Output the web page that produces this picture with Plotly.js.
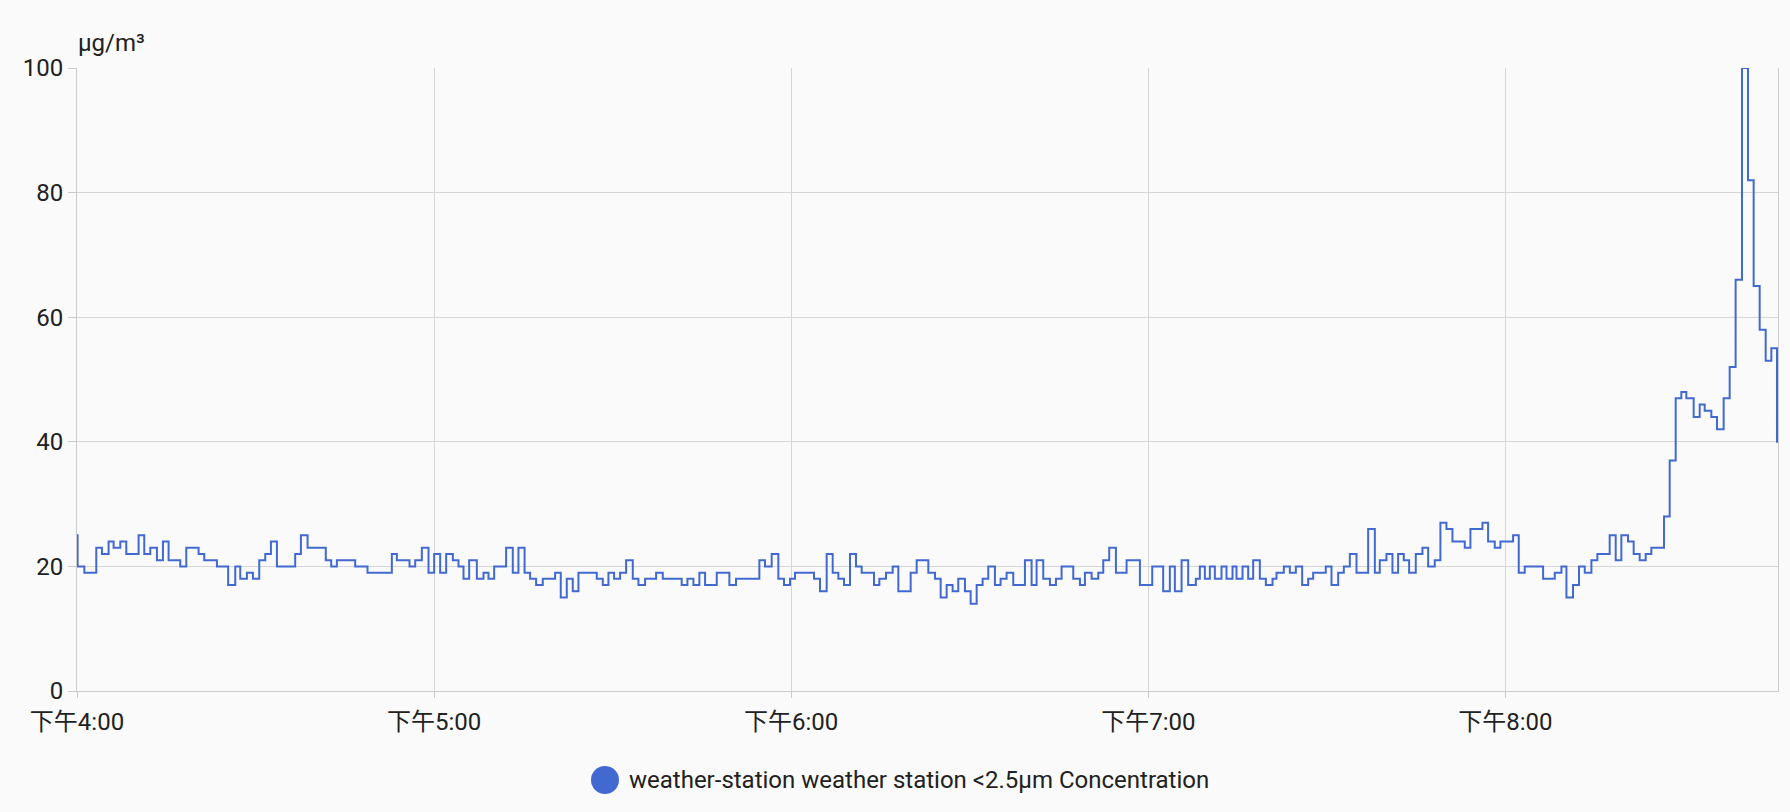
<!DOCTYPE html>
<html>
<head>
<meta charset="utf-8">
<script src="https://cdn.plot.ly/plotly-3.0.1.min.js"></script>
<style>
  html, body { margin: 0; padding: 0; background: #fafafa; }
  #chart { width: 1790px; height: 812px; }
</style>
</head>
<body>
<div id="chart"></div>
<script>
// Minutes after 16:00 at which the reading changes (step chart)
const minutes = [
  0, 0.1, 1.23, 3.24, 4.19, 5.31, 6.15, 7.27, 8.28, 10.35, 11.30, 12.31, 13.43, 14.44, 15.39, 17.35, 18.36, 20.43, 21.38, 23.51,
  25.4, 26.59, 27.43, 28.55, 29.56, 30.62, 31.63, 32.58, 33.59, 36.66, 37.62, 38.74, 41.8, 42.71, 43.66, 46.74, 48.81,
  52.9, 53.74, 55.87, 56.82, 57.94, 59.06, 60.01, 61.02, 62.03, 63.15, 64.1, 64.94, 65.89, 67.18, 68.3, 69.13, 70.09, 72.1, 73.22, 74.17,
  75.2, 76.13, 77.14, 78.26, 80.33, 81.28, 82.29, 83.3, 84.25, 87.33, 88.34, 89.29, 90.24, 91.25, 92.26, 93.38, 94.33, 95.45, 97.3, 98.42,
  101.6, 102.56, 103.57, 104.57, 105.53, 107.49, 109.61, 110.73, 114.65, 115.6, 116.72, 117.84, 118.79, 119.8, 120.64, 123.83, 124.84, 125.96,
  126.97, 127.92, 128.87, 129.88, 130.89, 131.84, 133.91, 134.81, 135.93, 137.05, 138.0, 140.07, 141.08, 143.04, 144.16, 145.11, 146.12, 147.12, 148.07, 149.19, 150.15, 151.16,
  152.16, 153.11, 154.23, 155.18, 156.19, 157.31, 159.27, 160.39, 161.23, 162.35, 163.47, 164.48, 165.43, 167.39, 168.51, 169.35, 170.47, 171.59, 172.43, 173.43, 174.56,
  176.35, 178.59, 180.66, 182.5, 183.62, 184.46, 185.59, 186.7, 187.99, 188.66, 189.5, 190.34, 191.18, 192.3, 193.14, 194.15, 194.82, 195.83, 196.78, 197.62, 198.74, 199.75, 200.87,
  201.54, 202.77, 203.78, 204.79, 205.85, 206.86, 207.7, 209.82, 210.78, 211.9, 212.85, 213.86, 214.98, 216.94, 218.06, 218.89, 220.01, 221.02, 221.97, 222.92, 223.82, 224.94, 226.06,
  227.02, 228.13, 229.08, 230.09, 231.1, 233.17, 234.12, 236.14, 237.09, 238.21, 239.16, 241.29, 242.24, 243.25, 246.33, 248.29, 249.41, 250.25,
  251.36, 252.37, 253.33, 254.45, 255.45, 257.52, 258.53, 259.48, 260.6, 261.55, 262.56, 263.57, 264.52, 266.65, 267.6, 268.61, 269.56, 270.4,
  271.63, 272.64, 273.48, 274.6, 275.55, 276.67, 277.68, 278.68, 279.75, 280.76, 281.71, 282.72, 283.73, 284.68, 285.63, 285.8
];
// PM2.5 concentration (µg/m³) from each change point
const pm25 = [
  25, 20, 19, 23, 22, 24, 23, 24, 22, 25, 22, 23, 21, 24, 21, 20, 23, 22, 21, 20,
  17, 20, 18, 19, 18, 21, 22, 24, 20, 22, 25, 23, 21, 20, 21, 20, 19,
  22, 21, 20, 21, 23, 19, 22, 19, 22, 21, 20, 18, 21, 18, 19, 18, 20, 23, 19, 23,
  19, 18, 17, 18, 19, 15, 18, 16, 19, 18, 17, 19, 18, 19, 21, 18, 17, 18, 19, 18,
  17, 18, 17, 19, 17, 19, 17, 18, 21, 20, 22, 18, 17, 18, 19, 18, 16, 22,
  19, 18, 17, 22, 20, 19, 17, 18, 19, 20, 16, 19, 21, 19, 18, 15, 17, 16, 18, 16, 14, 17,
  18, 20, 17, 18, 19, 17, 21, 17, 21, 18, 17, 18, 20, 18, 17, 19, 18, 19, 21, 23, 19,
  21, 17, 20, 16, 20, 16, 21, 17, 18, 20, 18, 20, 18, 20, 18, 20, 18, 20, 18, 21, 18, 17, 18,
  19, 20, 19, 20, 17, 18, 19, 20, 17, 19, 20, 22, 19, 26, 19, 21, 22, 19, 22, 21, 19, 22, 23,
  20, 21, 27, 26, 24, 23, 26, 27, 24, 23, 24, 25, 19, 20, 18, 19, 20, 15,
  17, 20, 19, 21, 22, 25, 21, 25, 24, 22, 21, 22, 23, 28, 37, 47, 48, 47,
  44, 46, 45, 44, 42, 47, 52, 66, 100, 82, 65, 58, 53, 55, 40, 40
];
const hourTicks = ['16:00:00', '17:00:00', '18:00:00', '19:00:00', '20:00:00'];
const hourLabels = ['下午4:00', '下午5:00', '下午6:00', '下午7:00', '下午8:00'];
const seriesName = 'weather-station weather station <2.5µm Concentration';
const unitLabel = 'µg/m³';
const day = '2024-01-01';
const rangeEndMin = 285.8;

const base = Date.UTC(2024, 0, 1, 16, 0, 0);
function fmt(m) {
  return new Date(base + m * 60000).toISOString().replace('T', ' ').replace('Z', '');
}

const W = 1790, H = 812;
const L = 77, R = 12, T = 68, B = 121;
const plotW = W - L - R, plotH = H - T - B;
const px2x = p => (p - L) / plotW;
const py2y = p => (H - B - p) / plotH;

const FONT = 'Roboto, "Noto Sans CJK SC", sans-serif';
const COLOR = '#4269d0';
const FS = 24;

const trace = {
  type: 'scatter',
  mode: 'lines',
  x: minutes.map(fmt),
  y: pm25,
  line: { shape: 'hv', color: COLOR, width: 2 },
  name: seriesName,
  showlegend: false,
  hoverinfo: 'x+y'
};

const layout = {
  width: W, height: H,
  paper_bgcolor: '#fafafa',
  plot_bgcolor: '#fafafa',
  margin: { l: L, r: R, t: T, b: B, pad: 0 },
  font: { family: FONT, size: FS, color: '#212121' },
  showlegend: false,
  xaxis: {
    type: 'date',
    range: [fmt(0), fmt(rangeEndMin)],
    tickvals: hourTicks.map(t => day + ' ' + t),
    ticktext: hourLabels,
    showgrid: true,
    gridcolor: '#d6d6d6',
    gridwidth: 1,
    showline: true,
    linecolor: '#cbcbcb',
    ticks: 'outside',
    ticklen: 6,
    tickcolor: '#cbcbcb',
    zeroline: false,
    tickfont: { family: FONT, size: FS, color: '#212121' },
    ticklabelstandoff: 3
  },
  yaxis: {
    range: [0, 100],
    tickvals: [0, 20, 40, 60, 80, 100],
    showgrid: true,
    gridcolor: '#d6d6d6',
    gridwidth: 1,
    showline: true,
    mirror: true,
    linecolor: '#cbcbcb',
    ticks: 'outside',
    ticklen: 8,
    tickcolor: '#cbcbcb',
    zeroline: false,
    tickfont: { family: FONT, size: FS, color: '#212121' }
  },
  annotations: [
    {
      text: unitLabel, xref: 'paper', yref: 'paper',
      x: px2x(76), y: py2y(43), xanchor: 'left', yanchor: 'middle',
      showarrow: false, font: { family: FONT, size: FS, color: '#212121' }
    },
    {
      text: seriesName.replace('<', '&lt;'), xref: 'paper', yref: 'paper',
      x: px2x(627), y: py2y(780), xanchor: 'left', yanchor: 'middle',
      showarrow: false, font: { family: FONT, size: FS, color: '#212121' }
    }
  ],
  shapes: [
    {
      type: 'circle', xref: 'paper', yref: 'paper',
      xsizemode: 'pixel', ysizemode: 'pixel',
      xanchor: px2x(605), yanchor: py2y(780),
      x0: -14, x1: 14, y0: -14, y1: 14,
      fillcolor: COLOR, line: { width: 0 }
    }
  ]
};

Plotly.newPlot('chart', [trace], layout, { displayModeBar: false, staticPlot: true });
</script>
</body>
</html>
